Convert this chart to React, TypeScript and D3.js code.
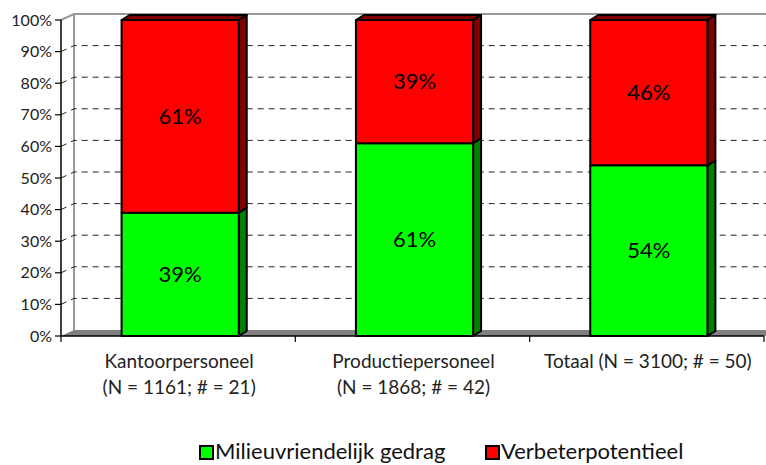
import React from 'react';
import * as d3 from 'd3';

const categories = ['Kantoorpersoneel', 'Productiepersoneel', 'Totaal'];
const categoryLabels = [
  ['Kantoorpersoneel', '(N = 1161; # = 21)'],
  ['Productiepersoneel', '(N = 1868; # = 42)'],
  ['Totaal (N = 3100; # = 50)'],
];
const milieuValues = [39, 61, 54];
const verbeterValues = [61, 39, 46];
const yTicks = [0, 10, 20, 30, 40, 50, 60, 70, 80, 90, 100];

const W = 766;
const H = 465;
const FONT = 'Lato, "Open Sans", sans-serif';

// plot frame (front left / bottom of the pseudo-3D box)
const left = 61;
const right = 764;
const bottom = 336;
const top = 20;
const wallDx = 13; // back wall offset
const wallDy = 6;
const barDx = 8; // bar depth
const barDy = 5;

const App = () => {
  const y = d3.scaleLinear().domain([0, 100]).range([bottom, top]);
  const xAxis = d3.scaleBand().domain(categories).range([left, right]).padding(0);
  const x = d3.scaleBand().domain(categories).range([left, right]).paddingInner(0.5).paddingOuter(0.25);

  const series = [
    { name: 'Milieuvriendelijk gedrag', values: milieuValues, front: '#00FF00', side: '#008000' },
    { name: 'Verbeterpotentieel', values: verbeterValues, front: '#FF0000', side: '#800000' },
  ];

  const stackData = categories.map((c, i) => ({ cat: c, m: milieuValues[i], v: verbeterValues[i] }));
  const stacked = d3.stack<any>().keys(['m', 'v'])(stackData);

  const backRight = W;

  return (
    <svg width={W} height={H} style={{ position: 'absolute', left: 0, top: 0 }} fontFamily={FONT}>
      <rect width={W} height={H} fill="#fff" />

      {/* floor */}
      <polygon
        points={`${left},${bottom} ${left + wallDx},${bottom - wallDy} ${backRight},${bottom - wallDy} ${backRight},${bottom}`}
        fill="#808080"
      />
      {/* back wall edges */}
      <line x1={left + wallDx} y1={y(100) - wallDy} x2={left + wallDx} y2={bottom - wallDy} stroke="#999" strokeWidth={2} />
      <line x1={left + wallDx} y1={y(100) - wallDy} x2={backRight} y2={y(100) - wallDy} stroke="#999" strokeWidth={2} />
      <line x1={left} y1={y(100)} x2={left + wallDx} y2={y(100) - wallDy} stroke="#999" strokeWidth={2} />

      {/* gridlines */}
      {yTicks.filter(t => t > 0 && t < 100).map(t => (
        <polyline
          key={t}
          points={`${left},${y(t)} ${left + wallDx},${y(t) - wallDy} ${backRight},${y(t) - wallDy}`}
          fill="none"
          stroke="#222"
          strokeWidth={1}
          strokeDasharray="6,5"
        />
      ))}

      {/* bars */}
      {stacked.map((layer, si) => (
        <g key={si}>
          {layer.map((d, ci) => {
            const x0 = (x(categories[ci]) as number) + 2;
            const x1 = x0 + x.bandwidth();
            const yT = y(d[1]);
            const yB = y(d[0]);
            const s = series[si];
            const isTop = si === stacked.length - 1;
            return (
              <g key={ci} stroke="#000" strokeWidth={2} strokeLinejoin="round">
                <polygon
                  points={`${x1},${yT} ${x1 + barDx},${yT - barDy} ${x1 + barDx},${yB - barDy} ${x1},${yB}`}
                  fill={s.side}
                />
                {isTop && (
                  <polygon
                    points={`${x0},${yT} ${x0 + barDx},${yT - barDy} ${x1 + barDx},${yT - barDy} ${x1},${yT}`}
                    fill={s.side}
                  />
                )}
                <rect x={x0} y={yT} width={x1 - x0} height={yB - yT} fill={s.front} />
                <text
                  x={(x0 + x1) / 2}
                  y={(yT + yB) / 2}
                  dy="0.35em"
                  textAnchor="middle"
                  fontSize={22}
                  stroke="none"
                  fill="#000"
                >
                  {`${s.values[ci]}%`}
                </text>
              </g>
            );
          })}
        </g>
      ))}

      {/* y axis */}
      <line x1={left} y1={y(100)} x2={left} y2={bottom} stroke="#000" strokeWidth={1.5} />
      {yTicks.map(t => (
        <g key={t}>
          <line x1={left - 6} y1={y(t)} x2={left} y2={y(t)} stroke="#000" strokeWidth={1.2} />
          <text x={left - 9} y={y(t)} dy="0.35em" textAnchor="end" fontSize={16} fill="#222">
            {`${t}%`}
          </text>
        </g>
      ))}

      {/* x axis */}
      <line x1={left} y1={bottom} x2={right} y2={bottom} stroke="#000" strokeWidth={1.5} />
      {[...categories.map(c => xAxis(c) as number), right].map((px, i) => (
        <line key={i} x1={px} y1={bottom} x2={px} y2={bottom + 6} stroke="#000" strokeWidth={1.2} />
      ))}
      {categories.map((c, i) => (
        <text key={c} x={(xAxis(c) as number) + xAxis.bandwidth() / 2} y={368} textAnchor="middle" fontSize={19} fill="#222">
          {categoryLabels[i].map((line, li) => (
            <tspan key={li} x={(xAxis(c) as number) + xAxis.bandwidth() / 2 + 1} dy={li === 0 ? 0 : 26}>
              {line}
            </tspan>
          ))}
        </text>
      ))}

      {/* legend */}
      {series.map((s, i) => {
        const lx = i === 0 ? 200 : 486;
        return (
          <g key={s.name}>
            <rect x={lx} y={446} width={13} height={13} fill={s.front} stroke="#000" strokeWidth={2} />
            <text x={lx + 15} y={459} fontSize={22} fill="#111">
              {s.name}
            </text>
          </g>
        );
      })}
    </svg>
  );
};

export default App;
